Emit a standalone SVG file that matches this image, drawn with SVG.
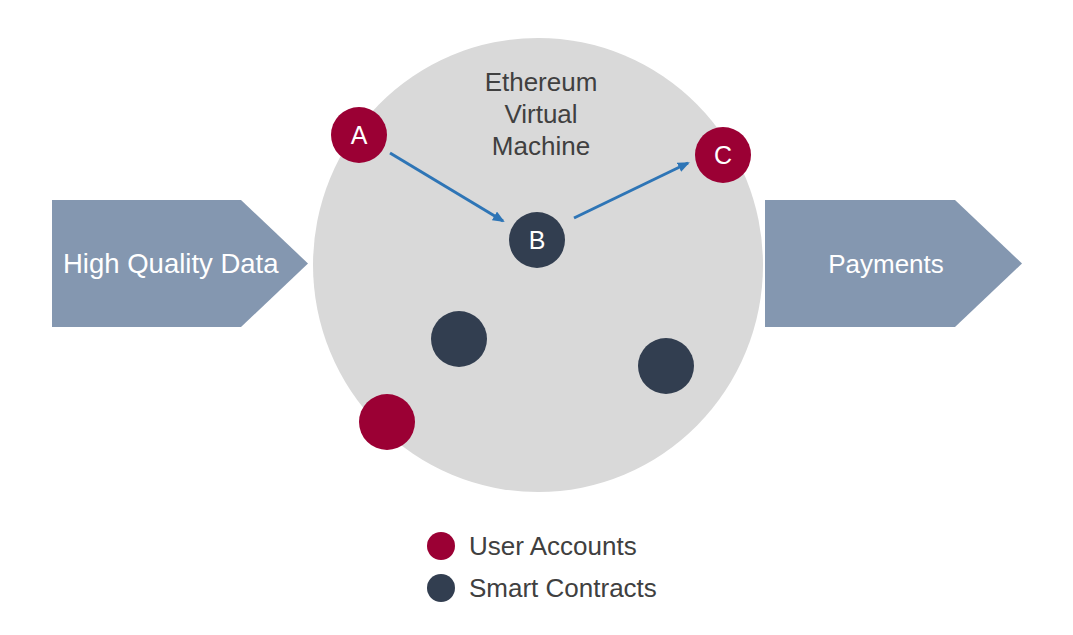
<svg xmlns="http://www.w3.org/2000/svg" width="1073" height="635" viewBox="0 0 1073 635">
<defs>
<style>
text{font-family:"Liberation Sans",Arial,sans-serif;}
.lbl{font-size:26px;fill:#404040;}
.white{font-size:26px;fill:#ffffff;}
.node-l{font-size:25px;fill:#ffffff;text-anchor:middle;}
.user{fill:#9b0034;}
.contract{fill:#323e50;}
.shape{fill:#8497b0;}
.conn{stroke:#2e75b6;stroke-width:3;fill:none;}
</style>
<marker id="ah" markerWidth="12" markerHeight="10" refX="10" refY="5" orient="auto" markerUnits="userSpaceOnUse">
<path d="M0,0 L12,5 L0,10 Z" fill="#2e75b6"/>
</marker>
</defs>
<rect width="1073" height="635" fill="#ffffff"/>
<g id="input">
<polygon class="shape" points="52,200 241,200 308,263.5 241,327 52,327"/>
<text class="white" x="63" y="273" style="font-size:27.5px">High Quality Data</text>
</g>
<g id="output">
<polygon class="shape" points="765,200 955,200 1022,263.5 955,327 765,327"/>
<text class="white" x="886" y="273" text-anchor="middle">Payments</text>
</g>
<g id="evm">
<ellipse cx="538" cy="265" rx="225" ry="227" fill="#d9d9d9"/>
<text class="lbl" x="541" y="91" text-anchor="middle">Ethereum</text>
<text class="lbl" x="541" y="123" text-anchor="middle">Virtual</text>
<text class="lbl" x="541" y="155" text-anchor="middle">Machine</text>
</g>
<g id="connectors">
<line class="conn" x1="390" y1="153" x2="503" y2="221" marker-end="url(#ah)"/>
<line class="conn" x1="574" y1="218" x2="688" y2="163" marker-end="url(#ah)"/>
</g>
<g id="nodeA"><circle class="user" cx="359" cy="135" r="28"/><text class="node-l" x="359" y="144">A</text></g>
<g id="nodeB"><circle class="contract" cx="537" cy="240" r="28"/><text class="node-l" x="537" y="249">B</text></g>
<g id="nodeC"><circle class="user" cx="723" cy="155" r="28"/><text class="node-l" x="723" y="164">C</text></g>
<g id="contract2"><circle class="contract" cx="459" cy="339" r="28"/></g>
<g id="contract3"><circle class="contract" cx="666" cy="366" r="28"/></g>
<g id="user3"><circle class="user" cx="387" cy="422" r="28"/></g>
<g id="legend">
<circle class="user" cx="441" cy="546" r="14"/>
<text class="lbl" x="469" y="555">User Accounts</text>
<circle class="contract" cx="441" cy="588" r="14"/>
<text class="lbl" x="469" y="597">Smart Contracts</text>
</g>
</svg>
